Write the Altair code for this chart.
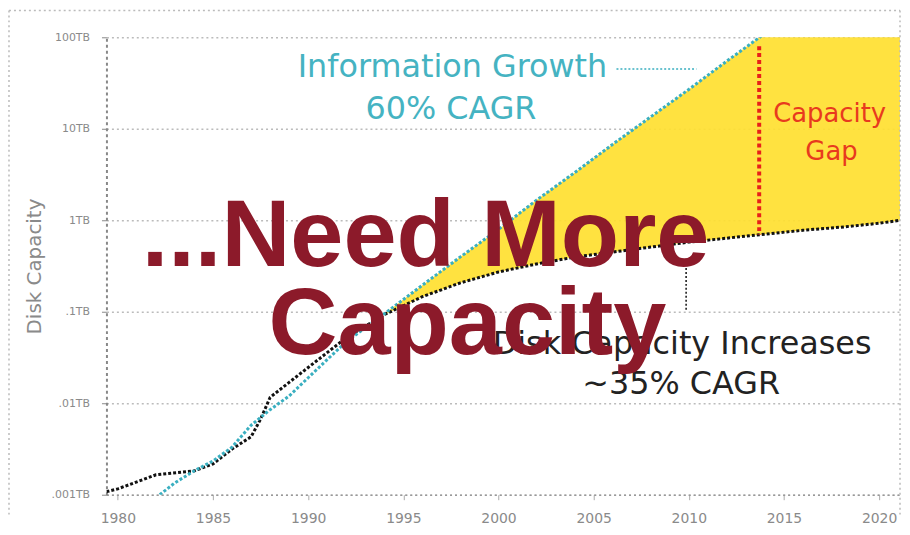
import altair as alt
import pandas as pd

# ---- data (values in GB, x in years) ----
cap_years = [1979.4, 1980, 1982, 1984, 1985, 1986, 1987, 1987.5, 1988, 1989, 1990, 1992, 1994,
             1996, 1998, 2000, 2002, 2004, 2006, 2008, 2010, 2012, 2014, 2016, 2018, 2020, 2021.1]
cap_gb = [1.08, 1.16, 1.65, 1.82, 2.17, 3.16, 4.3, 6.7, 11.6, 16.9, 24.6, 52, 93,
          146, 207, 272, 333, 396, 449, 509, 577, 637, 705, 778, 840, 927, 1000]

info_years = [1982.2, 1983, 1984, 1985, 1986, 1987, 1988, 1989, 1990, 1991, 1992, 1994,
              1996, 1998, 2000, 2002, 2004, 2006, 2008, 2010, 2012, 2014]
info_gb = [1.0, 1.35, 1.82, 2.34, 3.31, 5.75, 8.5, 12, 19, 30, 47, 95,
           195, 398, 794, 1660, 3311, 6761, 13490, 26900, 55000, 110000]

x_ticks = [1980, 1985, 1990, 1995, 2000, 2005, 2010, 2015, 2020]
y_ticks = [1, 10, 100, 1000, 10000, 100000]
y_labels = [".001TB", ".01TB", ".1TB", "1TB", "10TB", "100TB"]

gap_year = 2013.7
gap_top, gap_bottom = 80000, 700

# ---- tables ----
cap_df = pd.DataFrame({"year": cap_years, "gb": cap_gb})
info_df = pd.DataFrame({"year": info_years, "gb": info_gb})
info_lookup = dict(zip(info_years, info_gb))
fill_rows = [(y, g, info_lookup.get(y, 1e6)) for y, g in zip(cap_years, cap_gb) if y >= 1994]
fill_df = pd.DataFrame(fill_rows, columns=["year", "low", "high"])

label_expr = " : ".join(
    f"datum.value == {v} ? '{t}'" for v, t in zip(y_ticks, y_labels)
) + " : ''"

X = alt.X("year:Q", scale=alt.Scale(domain=[1979.4, 2021.1], nice=False, zero=False),
          axis=alt.Axis(values=x_ticks, format="d", title=None, grid=False,
                        labelColor="#8a8a8a", labelFontSize=14, labelFont="DejaVu Sans",
                        tickColor="#aaaaaa", tickSize=5, labelPadding=12,
                        domainColor="#999999", domainDash=[2, 3], domainWidth=1.5))
Y = alt.Y("gb:Q", scale=alt.Scale(type="log", domain=[1, 100000], nice=False),
          axis=alt.Axis(values=y_ticks, labelExpr=label_expr, title="Disk Capacity",
                        labelColor="#8a8a8a", labelFontSize=11, labelFont="DejaVu Sans",
                        tickColor="#888888", tickSize=5, labelPadding=12,
                        grid=True, gridColor="#bbbbbb", gridDash=[2, 3], gridWidth=1.5,
                        domainColor="#888888", domainDash=[3, 3], domainWidth=2,
                        titleFontSize=20, titleColor="#8a8a8a", titleFont="DejaVu Sans",
                        titleFontWeight="normal", titleAngle=270, titleX=-72, titleY=230,
                        titleAlign="center", titleBaseline="middle"))

xs = alt.X("year:Q")

base = alt.Chart(cap_df).mark_line(color="#111111", strokeWidth=3, strokeDash=[3, 2], clip=True).encode(x=X, y=Y)

fill = alt.Chart(fill_df).mark_area(color="#FFE030", opacity=0.92, clip=True).encode(
    x=xs, y=alt.Y("high:Q"), y2="low:Q")

info_line = alt.Chart(info_df).mark_line(color="#3AAFC0", strokeWidth=3, strokeDash=[3, 2], clip=True).encode(
    x=xs, y=alt.Y("gb:Q"))

gap_rule = alt.Chart(pd.DataFrame({"year": [gap_year], "top": [gap_top], "bot": [gap_bottom]})).mark_rule(
    color="#E8201A", strokeWidth=4, strokeDash=[4, 3]).encode(x=xs, y=alt.Y("top:Q"), y2="bot:Q")

# annotation connectors
info_conn = alt.Chart(pd.DataFrame({"year": [2006.2], "year2": [2010.4], "gb": [44900]})).mark_rule(
    color="#3AAFC0", strokeWidth=1.5, strokeDash=[2, 2]).encode(x=xs, x2="year2:Q", y=alt.Y("gb:Q"))
cap_conn = alt.Chart(pd.DataFrame({"year": [2009.86], "top": [301], "bot": [105]})).mark_rule(
    color="#111111", strokeWidth=1.5, strokeDash=[2, 2]).encode(x=xs, y=alt.Y("top:Q"), y2="bot:Q")

def label(df, color, size, weight="normal", font="DejaVu Sans", baseline="middle"):
    return alt.Chart(df).mark_text(color=color, fontSize=size, fontWeight=weight, font=font,
                                   align="center", baseline=baseline).encode(
        x=xs, y=alt.Y("gb:Q"), text="t:N")

info_txt = label(pd.DataFrame({"year": [1997.58, 1997.5], "gb": [47200, 16500],
                               "t": ["Information Growth", "60% CAGR"]}), "#45B3C2", 32)
gap_txt = label(pd.DataFrame({"year": [2017.4, 2017.5], "gb": [14560, 5620],
                              "t": ["Capacity", "Gap"]}), "#E83A1E", 26)
cap_txt = label(pd.DataFrame({"year": [2009.65, 2009.6], "gb": [44.9, 16.1],
                              "t": ["Disk Capacity Increases", "~35% CAGR"]}), "#222222", 32)
big_txt = label(pd.DataFrame({"year": [1996.17, 1998.37], "gb": [316, 34.1],
                              "t": ["...Need More", "Capacity"]}), "#8C1A2A", 96,
                weight="bold", font="Liberation Sans", baseline="alphabetic")

one = pd.DataFrame({"k": [0]})
border_style = dict(color="#bbbbbb", strokeWidth=1.5, strokeDash=[2, 3])
border_left = alt.Chart(one).mark_rule(**border_style).encode(x=alt.value(-98), y=alt.value(-27), y2=alt.value(482))
border_top = alt.Chart(one).mark_rule(**border_style).encode(y=alt.value(-27), x=alt.value(-98), x2=alt.value(798))
border_right = alt.Chart(one).mark_rule(**border_style).encode(x=alt.value(798), y=alt.value(-27), y2=alt.value(482))

chart = alt.layer(
    fill, base, info_line, gap_rule, info_conn, cap_conn,
    info_txt, gap_txt, cap_txt, border_left, border_top, border_right, big_txt
).properties(
    width=798, height=460,
    autosize=alt.AutoSizeParams(type="none"),
    padding={"left": 99, "top": 28, "right": 2, "bottom": 30},
    background="white",
).configure_view(stroke=None)

chart.save("out.html", embed_options={"renderer": "svg", "actions": False})
